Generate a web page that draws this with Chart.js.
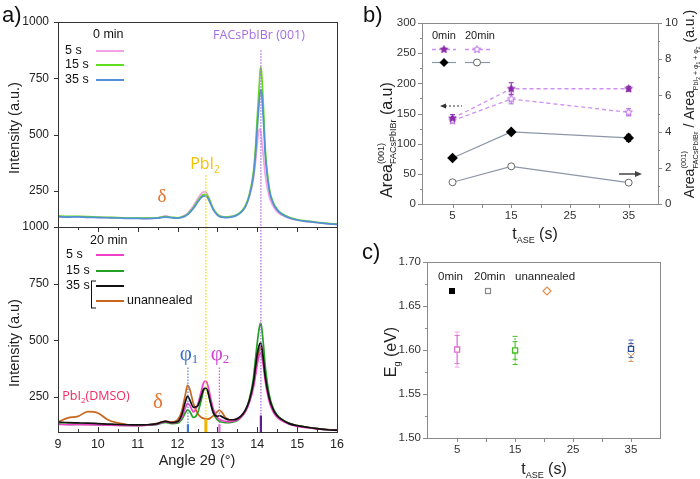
<!DOCTYPE html>
<html><head><meta charset="utf-8">
<script src="https://cdn.jsdelivr.net/npm/chart.js@4.4.1/dist/chart.umd.min.js"></script>
<style>
html,body{margin:0;padding:0;background:#fff;}
#wrap{position:relative;width:700px;height:479px;overflow:hidden;background:#fff;}
canvas{position:absolute;left:0;top:0;}
</style></head><body>
<div id="wrap">
<canvas id="cA1" width="700" height="479"></canvas>
<canvas id="cA2" width="700" height="479"></canvas>
<canvas id="cB" width="700" height="479"></canvas>
<canvas id="cC" width="700" height="479"></canvas>
</div>
<script>
// ================= DATA =================
// Panel a: XRD patterns, angle 2θ (°)
const angles = [
  9.0, 9.25, 9.5, 9.75, 10.0, 10.25, 10.5, 10.75, 11.0, 11.25,
  11.5, 11.6, 11.7, 11.85, 12.0, 12.1, 12.2, 12.25, 12.3, 12.4,
  12.5, 12.6, 12.65, 12.7, 12.75, 12.8, 12.9, 13.0, 13.05, 13.1,
  13.2, 13.3, 13.4, 13.5, 13.6, 13.7, 13.8, 13.9, 13.95, 14.0,
  14.05, 14.08, 14.1, 14.15, 14.2, 14.3, 14.4, 14.5, 14.6, 14.8,
  15.0, 15.25, 15.5, 15.75, 16.0];
// 0 min
const top5s = [
  138, 136, 137, 135, 134, 133, 132, 130, 130, 129,
  131, 136, 140, 133, 131, 136, 145, 152, 162, 185,
  215, 240, 247, 246, 236, 215, 172, 148, 142, 138,
  136, 137, 140, 147, 160, 182, 225, 300, 370, 460,
  525, 520, 495, 410, 320, 225, 182, 158, 145, 130,
  121, 115, 110, 106, 103];
const top15s = [
  140, 138, 138, 137, 135, 134, 133, 131, 131, 130,
  132, 135, 137, 134, 132, 135, 142, 148, 157, 178,
  205, 228, 235, 236, 230, 212, 170, 147, 140, 137,
  135, 136, 139, 146, 160, 185, 235, 330, 430, 580,
  720, 800, 790, 640, 440, 265, 200, 170, 152, 134,
  124, 117, 112, 107, 104];
const top35s = [
  136, 135, 136, 134, 133, 132, 131, 129, 129, 128,
  130, 133, 135, 132, 130, 133, 140, 146, 154, 174,
  200, 222, 228, 228, 222, 205, 166, 144, 138, 135,
  133, 134, 137, 144, 157, 180, 228, 315, 400, 530,
  650, 700, 695, 575, 410, 255, 195, 166, 150, 132,
  122, 116, 111, 106, 103];
// 20 min
const ann5s = [
  130, 128, 129, 128, 127, 126, 125, 124, 124, 126,
  132, 138, 142, 136, 140, 160, 205, 222, 215, 185,
  215, 280, 312, 322, 308, 270, 195, 160, 152, 148,
  143, 142, 144, 150, 163, 185, 225, 290, 340, 395,
  435, 445, 440, 390, 320, 230, 185, 160, 148, 130,
  121, 115, 110, 106, 103];
const ann15s = [
  132, 130, 130, 129, 128, 127, 126, 125, 125, 126,
  130, 135, 138, 133, 135, 150, 182, 194, 188, 160,
  178, 240, 278, 287, 278, 245, 178, 150, 143, 140,
  137, 137, 140, 147, 162, 190, 240, 330, 410, 490,
  555, 576, 568, 490, 385, 260, 200, 170, 154, 134,
  124, 117, 111, 107, 104];
const ann35s = [
  140, 137, 136, 135, 133, 131, 129, 128, 127, 128,
  133, 140, 143, 137, 142, 170, 232, 254, 240, 205,
  210, 258, 284, 290, 280, 245, 180, 165, 168, 165,
  155, 150, 150, 155, 168, 192, 235, 310, 375, 440,
  480, 488, 482, 420, 340, 245, 195, 168, 153, 133,
  124, 117, 111, 106, 104];
const unannealed = [
  140, 158, 165, 186, 180, 150, 136, 128, 125, 127,
  134, 140, 144, 140, 150, 185, 265, 302, 288, 220,
  178, 160, 156, 154, 153, 155, 168, 186, 192, 186,
  160, 150, 148, 153, 165, 188, 230, 300, 350, 410,
  455, 470, 465, 415, 340, 245, 195, 168, 152, 134,
  124, 116, 111, 107, 104];
const xTicksA = [9, 10, 11, 12, 13, 14, 15, 16];
const yTicksTop = [250, 500, 750, 1000];
const yTicksBottom = [250, 500, 750, 1000];
// reference positions: φ1, PbI2, φ2, FACsPbIBr (001)
const refAngles = [12.26, 12.71, 13.05, 14.09];
const refTopUpper = [null, 320, null, 875];
const refTopLower = [380, 1000, 380, 1000];
const stickTops = [130, 152, 130, 169];

// Panel b
const tASE = [5, 15, 35];
const area0 = [142, 191, 191];
const area0Err = [6, 10, 4];
const area20 = [138, 174, 152];
const area20Err = [4, 8, 6];
const ratio0 = [2.54, 3.98, 3.65];
const ratio0Err = [0.05, 0.08, 0.2];
const ratio20 = [1.2, 2.08, 1.18];
const ratio20Err = [0.05, 0.12, 0.05];
const xTicksB = [5, 15, 25, 35];
const yTicksBL = [0, 50, 100, 150, 200, 250, 300];
const yTicksBR = [0, 2, 4, 6, 8, 10];

// Panel c
const egT = [5, 15, 35];
const eg20 = [1.6005, 1.5995, 1.6013];
const eg20Err = [0.016, 0.016, 0.010];
const eg20Err2 = [0.020, 0.010, 0.006];
const egUnT = [35];
const egUn = [1.597];
const egUnErr = [0.010];
const xTicksC = [5, 15, 25, 35];
const yTicksC = [1.50, 1.55, 1.60, 1.65, 1.70];

// ================= HELPERS =================
const SANS = '"Liberation Sans", Arial, sans-serif';
const CAL = '"Open Sans", "Liberation Sans", sans-serif';
const SERIF = '"Liberation Serif", "DejaVu Serif", serif';

function line(ctx, x1, y1, x2, y2, color, w, dash) {
  ctx.save(); ctx.strokeStyle = color; ctx.lineWidth = w || 1; ctx.setLineDash(dash || []);
  ctx.beginPath(); ctx.moveTo(x1, y1); ctx.lineTo(x2, y2); ctx.stroke(); ctx.restore();
}
function text(ctx, s, x, y, size, color, align, fam) {
  ctx.save(); ctx.font = size + 'px ' + (fam || SANS); ctx.fillStyle = color || '#222';
  ctx.textAlign = align || 'left'; ctx.textBaseline = 'middle'; ctx.fillText(s, x, y); ctx.restore();
}
function fitText(ctx, s, cx, cy, width, fam, color) {
  ctx.save(); ctx.font = '20px ' + fam; const m = ctx.measureText(s).width;
  const size = 20 * width / m; ctx.font = size + 'px ' + fam; ctx.fillStyle = color;
  ctx.textAlign = 'center'; ctx.textBaseline = 'middle'; ctx.fillText(s, cx, cy); ctx.restore();
}
// rich text: parts {t, s, fam, dy, stack, c}; centered at (cx,cy), main size ms
function rich(ctx, parts, cx, cy, rot, color, ms) {
  ctx.save();
  const items = []; let x = 0, last = null;
  parts.forEach(p => {
    ctx.font = p.s + 'px ' + (p.fam || SANS);
    const mw = ctx.measureText(p.t).width;
    let it;
    if (p.stack && last) { it = {p, x: last.x, w: mw}; x = last.x + Math.max(last.w, mw); }
    else { it = {p, x, w: mw}; x += mw; }
    items.push(it); last = it;
  });
  const W = x;
  ctx.translate(cx, cy); ctx.rotate(rot || 0);
  ctx.textBaseline = 'alphabetic'; ctx.textAlign = 'left';
  const base = 0.36 * (ms || 14);
  items.forEach(it => {
    ctx.font = it.p.s + 'px ' + (it.p.fam || SANS);
    ctx.fillStyle = it.p.c || color || '#222';
    ctx.fillText(it.p.t, it.x - W / 2, base + (it.p.dy || 0));
  });
  ctx.restore();
}
function box(ctx, a, color, w) {
  ctx.save(); ctx.strokeStyle = color; ctx.lineWidth = w;
  const l = Math.round(a.left) + 0.5, t = Math.round(a.top) + 0.5;
  ctx.strokeRect(l, t, Math.round(a.right) - Math.round(a.left), Math.round(a.bottom) - Math.round(a.top));
  ctx.restore();
}
function yTickMarks(ctx, sc, x0, vals, len, color) {
  vals.forEach(v => { const y = Math.round(sc.getPixelForValue(v)) + 0.5; line(ctx, x0, y, x0 + len, y, color, 1); });
}
function xTickMarks(ctx, sc, y0, vals, len, color) {
  vals.forEach(v => { const x = Math.round(sc.getPixelForValue(v)) + 0.5; line(ctx, x, y0, x, y0 + len, color, 1); });
}
function rng(a, b, s) { const r = []; for (let v = a; v <= b + 1e-9; v += s) r.push(+v.toFixed(4)); return r; }
function starCanvas(fill, stroke, r) {
  const c = document.createElement('canvas'); const s = Math.ceil(r * 2 + 3); c.width = s; c.height = s;
  const g = c.getContext('2d'); g.beginPath();
  for (let i = 0; i < 10; i++) {
    const a = -Math.PI / 2 + i * Math.PI / 5; const rr = i % 2 ? r * 0.45 : r;
    g.lineTo(s / 2 + rr * Math.cos(a), s / 2 + rr * Math.sin(a));
  }
  g.closePath(); g.fillStyle = fill; g.fill(); g.strokeStyle = stroke; g.lineWidth = 1; g.stroke();
  return c;
}
function errBars(ctx, xs, ys, errs, sx, sy, color, w, cap, dash) {
  xs.forEach((t, i) => {
    const x = sx.getPixelForValue(t);
    const y1 = sy.getPixelForValue(ys[i] - errs[i]), y2 = sy.getPixelForValue(ys[i] + errs[i]);
    line(ctx, x, y1, x, y2, color, w, dash);
    line(ctx, x - cap, y1, x + cap, y1, color, w);
    line(ctx, x - cap, y2, x + cap, y2, color, w);
  });
}
const base = {responsive: false, animation: false, events: [],
  plugins: {legend: {display: false}, tooltip: {enabled: false}}};
const tf = sz => ({family: SANS, size: sz});
const pts = (xs, ys) => xs.map((x, i) => ({x, y: ys[i]}));

function mkA(series, color, order) {
  return {data: pts(angles, series), borderColor: color, borderWidth: 1.7, pointRadius: 0,
    cubicInterpolationMode: 'monotone', order, fill: false};
}
const refColors = ['#5a8ee0', '#f2e200', '#d860d8', '#b070e8'];
const stickColors = ['#3c78d8', '#f0b400', '#d878d8', '#5a1f8a'];

// ================= PANEL a (upper) =================
new Chart(document.getElementById('cA1'), {
  type: 'line',
  data: {datasets: [mkA(top5s, '#f3a2e6', 2), mkA(top15s, '#62dc1e', 1), mkA(top35s, '#5290d8', 0)]},
  options: Object.assign({}, base, {
    layout: {padding: {left: 0, top: 22, right: 363, bottom: 252}},
    scales: {
      x: {type: 'linear', min: 9, max: 16, display: false},
      y: {min: 91, max: 1000, afterFit: s => { s.width = 58; },
        afterBuildTicks: s => { s.ticks = yTicksTop.map(v => ({value: v})); },
        grid: {display: false, drawTicks: false}, border: {display: false},
        ticks: {padding: 9, color: '#222', font: tf(12), callback: v => String(v)}}
    }
  }),
  plugins: [{
    id: 'pA1',
    afterDatasetsDraw(ch) {
      const {ctx, chartArea: a, scales: {x, y}} = ch;
      refAngles.forEach((ang, i) => {
        if (refTopUpper[i] == null) return;
        const px = x.getPixelForValue(ang);
        line(ctx, px, y.getPixelForValue(refTopUpper[i]), px, a.bottom, refColors[i], 1.3, [1.5, 1.5]);
      });
    },
    afterDraw(ch) {
      const {ctx, chartArea: a, scales: {y}} = ch;
      box(ctx, a, '#333', 1);
      yTickMarks(ctx, y, a.left, yTicksTop, -4, '#333');
      text(ctx, 'a)', 2, 16, 22, '#111');
      rich(ctx, [{t: 'Intensity (a.u.)', s: 14.5}], 14, 128, -Math.PI / 2, '#222', 14.5);
      text(ctx, '0 min', 93, 35, 12.5, '#111');
      text(ctx, '5 s', 65, 51, 12.5, '#111'); line(ctx, 96, 51, 124, 51, '#f3a2e6', 2);
      text(ctx, '15 s', 65, 65, 12.5, '#111'); line(ctx, 96, 65, 124, 65, '#62dc1e', 2);
      text(ctx, '35 s', 65, 80, 12.5, '#111'); line(ctx, 96, 80, 124, 80, '#5290d8', 2);
      fitText(ctx, 'FACsPbIBr (001)', 259, 35, 92, CAL, '#a46ee0');
      rich(ctx, [{t: 'PbI', s: 16, fam: CAL}, {t: '2', s: 10, fam: CAL, dy: 4}], 205, 163, 0, '#f2c200', 16);
      text(ctx, 'δ', 162, 197, 19, '#e8702a', 'center', SERIF);
    }
  }]
});

// ================= PANEL a (lower) =================
new Chart(document.getElementById('cA2'), {
  type: 'line',
  data: {datasets: [mkA(unannealed, '#c8661c', 3), mkA(ann15s, '#23a023', 2), mkA(ann5s, '#f040c8', 1), mkA(ann35s, '#111111', 0)]},
  options: Object.assign({}, base, {
    layout: {padding: {left: 0, top: 227, right: 363, bottom: 0}},
    scales: {
      x: {type: 'linear', min: 9, max: 16, afterFit: s => { s.height = 47; },
        afterBuildTicks: s => { s.ticks = xTicksA.map(v => ({value: v})); },
        grid: {display: false, drawTicks: false}, border: {display: false},
        ticks: {padding: 5, color: '#222', font: tf(12.5), maxRotation: 0, callback: v => String(v)}},
      y: {min: 96, max: 1000, afterFit: s => { s.width = 58; },
        afterBuildTicks: s => { s.ticks = yTicksBottom.map(v => ({value: v})); },
        grid: {display: false, drawTicks: false}, border: {display: false},
        ticks: {padding: 9, color: '#222', font: tf(12), callback: v => String(v)}}
    }
  }),
  plugins: [{
    id: 'pA2',
    afterDatasetsDraw(ch) {
      const {ctx, chartArea: a, scales: {x, y}} = ch;
      refAngles.forEach((ang, i) => {
        const px = x.getPixelForValue(ang);
        line(ctx, px, y.getPixelForValue(refTopLower[i]), px, a.bottom, refColors[i], 1.3, [1.5, 1.5]);
      });
      refAngles.forEach((ang, i) => {
        const px = x.getPixelForValue(ang);
        line(ctx, px, y.getPixelForValue(stickTops[i]), px, a.bottom, stickColors[i], i === 1 ? 3 : 2.2);
      });
    },
    afterDraw(ch) {
      const {ctx, chartArea: a, scales: {x, y}} = ch;
      box(ctx, a, '#333', 1);
      yTickMarks(ctx, y, a.left, yTicksBottom, -4, '#333');
      xTickMarks(ctx, x, a.top, xTicksA, 5, '#333');
      xTickMarks(ctx, x, a.top, rng(9.5, 15.5, 1), 3, '#333');
      xTickMarks(ctx, x, a.bottom, xTicksA, -5, '#333');
      xTickMarks(ctx, x, a.bottom, rng(9.5, 15.5, 1), -3, '#333');
      rich(ctx, [{t: 'Intensity (a.u)', s: 14.5}], 14, 343, -Math.PI / 2, '#222', 14.5);
      rich(ctx, [{t: 'Angle 2θ (°)', s: 14.5}], 197, 460, 0, '#222', 14.5);
      text(ctx, '20 min', 90, 241, 12.5, '#111');
      text(ctx, '5 s', 66, 255, 12.5, '#111'); line(ctx, 96, 255, 124, 255, '#f040c8', 2);
      text(ctx, '15 s', 66, 271, 12.5, '#111'); line(ctx, 96, 271, 124, 271, '#23a023', 2);
      text(ctx, '35 s', 66, 286, 12.5, '#111'); line(ctx, 96, 286, 124, 286, '#111', 2);
      line(ctx, 91.5, 281, 91.5, 308, '#111', 1); line(ctx, 91, 281, 96, 281, '#111', 1); line(ctx, 91, 308, 96, 308, '#111', 1);
      line(ctx, 96, 301, 124, 301, '#c8661c', 2);
      text(ctx, 'unannealed', 127, 301, 12.5, '#111');
      rich(ctx, [{t: 'φ', s: 21, fam: SERIF}, {t: '1', s: 13, fam: SERIF, dy: 3}], 189, 354, 0, '#3a6fc4', 16);
      rich(ctx, [{t: 'φ', s: 21, fam: SERIF}, {t: '2', s: 13, fam: SERIF, dy: 3}], 220, 354, 0, '#d040d0', 16);
      rich(ctx, [{t: 'PbI', s: 12.5, fam: CAL}, {t: '2', s: 8, fam: CAL, dy: 3}, {t: '(DMSO)', s: 12.5, fam: CAL}], 96, 395, 0, '#f02a60', 12.5);
      text(ctx, 'δ', 158, 402, 21, '#e8702a', 'center', SERIF);
    }
  }]
});

// ================= PANEL b =================
const starFilled = starCanvas('#8a2aa8', '#8a2aa8', 4);
const starOpen = starCanvas('#ffffff', '#b468e0', 4);
new Chart(document.getElementById('cB'), {
  type: 'line',
  data: {datasets: [
    {data: pts(tASE, area0), yAxisID: 'yL', borderColor: '#d08ef2', borderDash: [4, 3], borderWidth: 1.3,
      pointStyle: starFilled, pointRadius: 4, order: 1},
    {data: pts(tASE, area20), yAxisID: 'yL', borderColor: '#d08ef2', borderDash: [4, 3], borderWidth: 1.3,
      pointStyle: starOpen, pointRadius: 4, order: 2},
    {data: pts(tASE, ratio0), yAxisID: 'yR', borderColor: '#8d96a8', borderWidth: 1.2,
      pointStyle: 'rectRot', pointRadius: 4.5, pointBackgroundColor: '#000', pointBorderColor: '#000', order: 3},
    {data: pts(tASE, ratio20), yAxisID: 'yR', borderColor: '#8d96a8', borderWidth: 1.2,
      pointStyle: 'circle', pointRadius: 3.5, pointBackgroundColor: '#fff', pointBorderColor: '#666', pointBorderWidth: 1, order: 4}
  ]},
  options: Object.assign({}, base, {
    layout: {padding: {left: 350, top: 23, right: 0, bottom: 239}},
    scales: {
      x: {type: 'linear', min: -0.2, max: 40, afterFit: s => { s.height = 36; },
        afterBuildTicks: s => { s.ticks = xTicksB.map(v => ({value: v})); },
        grid: {display: false, drawTicks: false}, border: {display: false},
        ticks: {padding: 5, color: '#333', font: tf(11.5), maxRotation: 0, callback: v => String(v)}},
      yL: {position: 'left', min: 0, max: 300, afterFit: s => { s.width = 72; },
        afterBuildTicks: s => { s.ticks = yTicksBL.map(v => ({value: v})); },
        grid: {display: false, drawTicks: false}, border: {display: false},
        ticks: {padding: 6, color: '#333', font: tf(11.5), callback: v => String(v)}},
      yR: {position: 'right', min: 0, max: 10, afterFit: s => { s.width = 42; },
        afterBuildTicks: s => { s.ticks = yTicksBR.map(v => ({value: v})); },
        grid: {display: false, drawTicks: false}, border: {display: false},
        ticks: {padding: 7, color: '#333', font: tf(11.5), callback: v => String(v)}}
    }
  }),
  plugins: [{
    id: 'pB',
    beforeDatasetsDraw(ch) {
      const {ctx, scales: {x, yL, yR}} = ch;
      errBars(ctx, tASE, area20, area20Err, x, yL, '#b468e0', 1, 2.5);
      errBars(ctx, tASE, area0, area0Err, x, yL, '#8a2aa8', 1, 2.5);
      errBars(ctx, tASE, ratio0, ratio0Err, x, yR, '#333', 1, 2.5);
      errBars(ctx, tASE, ratio20, ratio20Err, x, yR, '#888', 1, 2.5);
    },
    afterDraw(ch) {
      const {ctx, chartArea: a, scales: {x, yL, yR}} = ch;
      const g = '#8a8a8a';
      box(ctx, a, g, 1);
      yTickMarks(ctx, yL, a.left, yTicksBL, -4, g);
      yTickMarks(ctx, yL, a.left, rng(25, 275, 50), -2, g);
      yTickMarks(ctx, yR, a.right, yTicksBR, 4, g);
      yTickMarks(ctx, yR, a.right, rng(1, 9, 2), 2, g);
      xTickMarks(ctx, x, a.bottom, rng(5, 35, 5), 4, g);
      text(ctx, 'b)', 363, 16, 22, '#111');
      // legend
      text(ctx, '0min', 432, 36, 11, '#222'); text(ctx, '20min', 465, 36, 11, '#222');
      line(ctx, 432, 49.5, 456, 49.5, '#d08ef2', 1.3, [4, 3]); ctx.drawImage(starFilled, 444 - starFilled.width / 2, 49.5 - starFilled.height / 2);
      line(ctx, 465, 49.5, 490, 49.5, '#d08ef2', 1.3, [4, 3]); ctx.drawImage(starOpen, 477 - starOpen.width / 2, 49.5 - starOpen.height / 2);
      line(ctx, 432, 62.5, 456, 62.5, '#8d96a8', 1.2);
      ctx.save(); ctx.fillStyle = '#000'; ctx.beginPath(); ctx.moveTo(444, 58); ctx.lineTo(448.5, 62.5); ctx.lineTo(444, 67); ctx.lineTo(439.5, 62.5); ctx.closePath(); ctx.fill(); ctx.restore();
      line(ctx, 465, 62.5, 490, 62.5, '#8d96a8', 1.2);
      ctx.save(); ctx.fillStyle = '#fff'; ctx.strokeStyle = '#666'; ctx.beginPath(); ctx.arc(477, 62.5, 3.5, 0, Math.PI * 2); ctx.fill(); ctx.stroke(); ctx.restore();
      // arrows
      line(ctx, 445, 106, 462, 106, '#333', 1, [2, 2]);
      ctx.save(); ctx.fillStyle = '#333'; ctx.beginPath(); ctx.moveTo(440, 106); ctx.lineTo(446, 103.5); ctx.lineTo(446, 108.5); ctx.closePath(); ctx.fill(); ctx.restore();
      line(ctx, 619, 174, 636, 174, '#444', 1.5);
      ctx.save(); ctx.fillStyle = '#444'; ctx.beginPath(); ctx.moveTo(642, 174); ctx.lineTo(635, 171); ctx.lineTo(635, 177); ctx.closePath(); ctx.fill(); ctx.restore();
      // titles
      rich(ctx, [{t: 'Area', s: 16}, {t: '(001)', s: 9, dy: -8}, {t: 'FACsPbIBr', s: 9, dy: 4, stack: true}, {t: ' (a.u)', s: 16}],
        386, 140, -Math.PI / 2, '#222', 16);
      rich(ctx, [{t: 'Area', s: 14}, {t: '(001)', s: 7.5, dy: -8}, {t: 'FACsPbIBr', s: 7.5, dy: 4, stack: true},
        {t: ' / Area', s: 14}, {t: 'PbI', s: 7, dy: 4}, {t: '2', s: 5, dy: 6}, {t: ' + φ', s: 7, dy: 4}, {t: '1', s: 5, dy: 6},
        {t: ' + φ', s: 7, dy: 4}, {t: '2', s: 5, dy: 6}, {t: ' (a.u.)', s: 14}],
        689, 104, -Math.PI / 2, '#222', 14);
      rich(ctx, [{t: 't', s: 16}, {t: 'ASE', s: 9, dy: 4}, {t: ' (s)', s: 16}], 535, 233, 0, '#222', 16);
    }
  }]
});

// ================= PANEL c =================
new Chart(document.getElementById('cC'), {
  type: 'scatter',
  data: {datasets: [
    {data: pts(egUnT, egUn), pointStyle: 'rectRot', pointRadius: 3.5, pointBackgroundColor: '#fff',
      pointBorderColor: '#e09050', pointBorderWidth: 1, order: 2},
    {data: pts(egT, eg20), pointStyle: 'rect', pointRadius: 3.6, pointBackgroundColor: '#fff',
      pointBorderColor: ['#e070d0', '#40c020', '#2a4a9a'], pointBorderWidth: 1.3, order: 1}
  ]},
  options: Object.assign({}, base, {
    layout: {padding: {left: 350, top: 262, right: 40, bottom: 0}},
    scales: {
      x: {type: 'linear', min: -0.2, max: 40, afterFit: s => { s.height = 41; },
        afterBuildTicks: s => { s.ticks = xTicksC.map(v => ({value: v})); },
        grid: {display: false, drawTicks: false}, border: {display: false},
        ticks: {padding: 5, color: '#333', font: tf(11.5), maxRotation: 0, callback: v => String(v)}},
      y: {min: 1.5, max: 1.7, afterFit: s => { s.width = 77; },
        afterBuildTicks: s => { s.ticks = yTicksC.map(v => ({value: v})); },
        grid: {display: false, drawTicks: false}, border: {display: false},
        ticks: {padding: 6, color: '#333', font: tf(11.5), callback: v => Number(v).toFixed(2)}}
    }
  }),
  plugins: [{
    id: 'pC',
    beforeDatasetsDraw(ch) {
      const {ctx, scales: {x, y}} = ch;
      const cols = ['#e070d0', '#40c020', '#3a5aa8'];
      const cols2 = ['#f2a8e8', '#40c020', '#3a5aa8'];
      errBars(ctx, egUnT, egUn, egUnErr, x, y, '#e09050', 1, 2.5, [2, 1.5]);
      egT.forEach((t, i) => {
        errBars(ctx, [t], [eg20[i]], [eg20Err2[i]], x, y, cols2[i], 1, 2.5, i === 0 ? [] : [2, 1.5]);
        errBars(ctx, [t], [eg20[i]], [eg20Err[i]], x, y, cols[i], 1, 2.5, i === 0 ? [] : [2, 1.5]);
      });
    },
    afterDraw(ch) {
      const {ctx, chartArea: a, scales: {x, y}} = ch;
      const g = '#8a8a8a';
      box(ctx, a, g, 1);
      yTickMarks(ctx, y, a.left, yTicksC, -4, g);
      yTickMarks(ctx, y, a.left, rng(1.525, 1.675, 0.05), -2, g);
      xTickMarks(ctx, x, a.bottom, rng(5, 35, 5), 4, g);
      text(ctx, 'c)', 362, 253, 22, '#111');
      text(ctx, '0min', 438, 277, 11.5, '#222');
      text(ctx, '20min', 474, 277, 11.5, '#222');
      text(ctx, 'unannealed', 515, 277, 11.5, '#222');
      ctx.save();
      ctx.fillStyle = '#000'; ctx.fillRect(449, 288, 6, 6);
      ctx.strokeStyle = '#888'; ctx.lineWidth = 1.2; ctx.strokeRect(485.5, 288.5, 5, 5);
      ctx.strokeStyle = '#e09050'; ctx.beginPath(); ctx.moveTo(547, 287); ctx.lineTo(551, 291); ctx.lineTo(547, 295); ctx.lineTo(543, 291); ctx.closePath(); ctx.stroke();
      ctx.restore();
      rich(ctx, [{t: 'E', s: 16}, {t: 'g', s: 9, dy: 4}, {t: ' (eV)', s: 16}], 390, 352, -Math.PI / 2, '#222', 16);
      rich(ctx, [{t: 't', s: 16}, {t: 'ASE', s: 9, dy: 4}, {t: ' (s)', s: 16}], 544, 468, 0, '#222', 16);
    }
  }]
});
</script>
</body></html>
